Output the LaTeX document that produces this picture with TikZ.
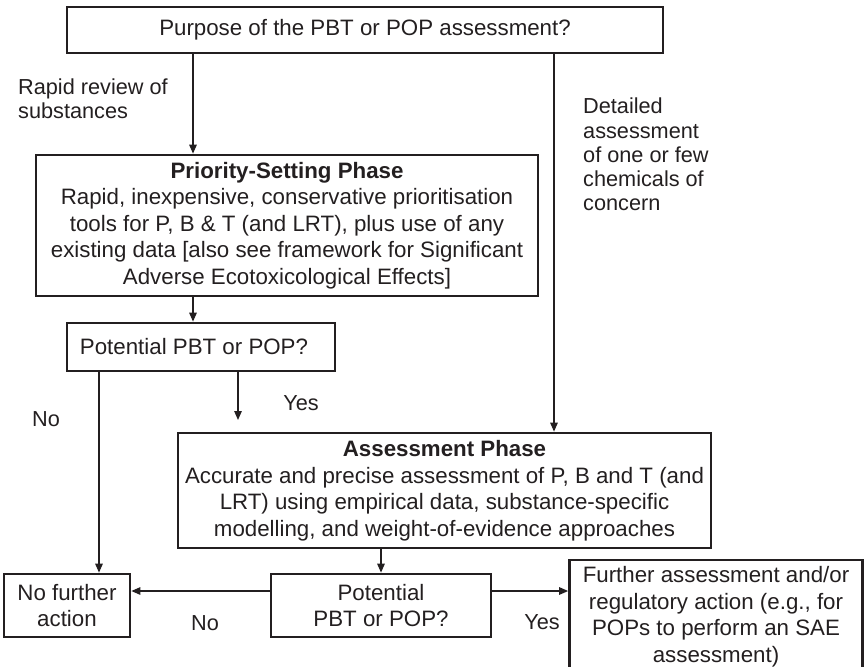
\documentclass[tikz,border=0pt]{standalone}
\usepackage{fontspec}
\setmainfont{Liberation Sans}
\usetikzlibrary{arrows.meta}
\definecolor{ink}{HTML}{231F20}
\begin{document}
\begin{tikzpicture}[x=1pt,y=-1pt,
  box/.style={draw=ink, line width=2.7pt, inner sep=0pt, align=center,
    font=\fontsize{22.3}{26.5}\selectfont, text=ink},
  lbl/.style={inner sep=0pt, align=left, font=\fontsize{21.7}{24.2}\selectfont, text=ink},
  arr/.style={draw=ink, line width=1.3pt, -{Triangle[length=9pt,width=7.5pt]}},
  ln/.style={draw=ink, line width=1.3pt}]
\useasboundingbox (0,0) rectangle (866,666);

% boxes
\node[box, minimum width=596pt, minimum height=46pt] (top) at (365,30)
  {Purpose of the PBT or POP assessment?};
\node[box, minimum width=502pt, minimum height=141pt] (prio) at (287,225.5)
  {\textbf{Priority-Setting Phase}\\
   Rapid, inexpensive, conservative prioritisation\\
   tools for P, B \& T (and LRT), plus use of any\\
   existing data [also see framework for Significant\\
   Adverse Ecotoxicological Effects]};
\node[box, minimum width=268pt, minimum height=48pt] (pot1) at (201,347)
  {Potential PBT or POP?\hspace*{14pt}};
\node[box, minimum width=533pt, minimum height=115pt] (assess) at (444.5,490.5)
  {\textbf{Assessment Phase}\\
   Accurate and precise assessment of P, B and T (and\\
   LRT) using empirical data, substance-specific\\
   modelling, and weight-of-evidence approaches};
\node[box, minimum width=220pt, minimum height=63pt] (pot2) at (381,605.5)
  {Potential\\PBT or POP?};
\node[box, minimum width=126pt, minimum height=63pt] (nfa) at (67,605.5)
  {No further\\action};
\node[box, minimum width=293pt, minimum height=113pt] (fur) at (716,616.5)
  {Further assessment and/or\\
   regulatory action (e.g., for\\
   POPs to perform an SAE\\
   assessment)};

% labels
\node[lbl, anchor=west] (lrapid) at (18,98.5) {Rapid review of\\substances};
\node[lbl, anchor=west] (ldet) at (583,154.5)
  {Detailed\\assessment\\of one or few\\chemicals of\\concern};
\node[lbl] (lno1) at (46,419) {No};
\node[lbl] (lyes1) at (301,403) {Yes};
\node[lbl] (lno2) at (205,623) {No};
\node[lbl] (lyes2) at (542,622) {Yes};

% helper coordinates
\coordinate (xa) at (193,0);
\coordinate (xb) at (554,0);
\coordinate (xc) at (99,0);
\coordinate (yesend) at (238,420);
\coordinate (yh) at (0,591);

% connectors
\draw[arr] (top.south -| xa) -- (prio.north -| xa);
\draw[arr] (top.south -| xb) -- (assess.north -| xb);
\draw[arr] (prio.south -| xa) -- (pot1.north -| xa);
\draw[arr] (pot1.south -| xc) -- (nfa.north -| xc);
\draw[arr] (pot1.south -| yesend) -- (yesend);
\draw[arr] (assess.south -| pot2.north) -- (pot2.north);
\draw[arr] (pot2.west |- yh) -- (nfa.east |- yh);
\draw[arr] (pot2.east |- yh) -- (fur.west |- yh);
\end{tikzpicture}
\end{document}
